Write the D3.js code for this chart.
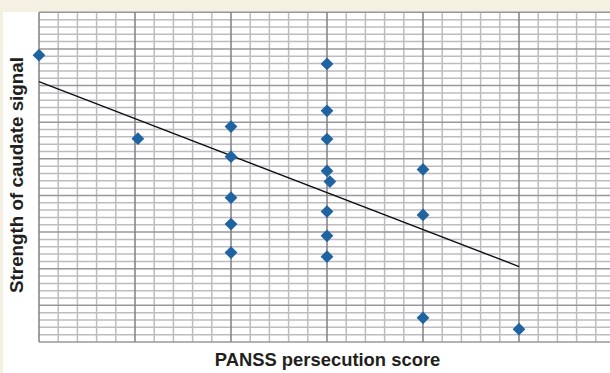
<!DOCTYPE html>
<html>
<head>
<meta charset="utf-8">
<script src="https://cdn.jsdelivr.net/npm/d3@7"></script>
<style>
  html, body { margin: 0; padding: 0; background: #f4f0e2; }
  svg { display: block; }
  .lbl { font-family: "Liberation Sans", Arial, Helvetica, sans-serif; font-weight: bold; fill: #231f20; }
</style>
</head>
<body>
<div id="chart"></div>
<script>
// PANSS persecution score (x) against caudate signal strength (y)
const scores  = [1, 2.03, 3, 3, 3, 3, 3, 4, 4, 4, 4, 4.03, 4, 4, 4, 5, 5, 5, 6];
const signals = [7.83, 5.55, 5.88, 5.06, 3.94, 3.22, 2.44, 7.59, 6.31, 5.54, 4.67, 4.38, 3.56, 2.90, 2.33, 4.71, 3.47, 0.66, 0.35];

// Fitted trend line, given by its two end points
const fitScores  = [1, 6];
const fitSignals = [7.11, 2.06];

const xDomain = [1, 7];
const yDomain = [0, 9];
const minorStep = 0.2;

const W = 610, H = 373;
const svg = d3.select("#chart").append("svg")
  .attr("width", W).attr("height", H);

// white panel
svg.append("rect").attr("x", 3).attr("y", 12).attr("width", W - 3).attr("height", H - 12)
  .attr("fill", "#ffffff");

const x = d3.scaleLinear().domain(xDomain).range([39, 615]);
const y = d3.scaleLinear().domain(yDomain).range([342, 12.3]);

const g = svg.append("g");

const xs = d3.range(xDomain[0], xDomain[1] + 1e-9, minorStep);
const ys = d3.range(yDomain[0], yDomain[1] + 1e-9, minorStep);
const isMajor = (v, i) => i % 5 === 0;

// minor grid
g.selectAll(".hmin").data(ys.filter((v, i) => !isMajor(v, i))).join("line")
  .attr("x1", x(xDomain[0])).attr("x2", x(xDomain[1]))
  .attr("y1", d => y(d)).attr("y2", d => y(d))
  .attr("stroke", "#bdbdc1").attr("stroke-width", 1.5);
g.selectAll(".vmin").data(xs.filter((v, i) => !isMajor(v, i))).join("line")
  .attr("y1", y(yDomain[0])).attr("y2", y(yDomain[1]))
  .attr("x1", d => x(d)).attr("x2", d => x(d))
  .attr("stroke", "#bdbdc1").attr("stroke-width", 1.5);

// major grid
g.selectAll(".hmaj").data(ys.filter(isMajor)).join("line")
  .attr("x1", x(xDomain[0])).attr("x2", x(xDomain[1]))
  .attr("y1", d => y(d)).attr("y2", d => y(d))
  .attr("stroke", "#98989c").attr("stroke-width", 1.5);
g.selectAll(".vmaj").data(xs.filter(isMajor)).join("line")
  .attr("y1", y(yDomain[0])).attr("y2", y(yDomain[1]))
  .attr("x1", d => x(d)).attr("x2", d => x(d))
  .attr("stroke", "#818186").attr("stroke-width", 1.5);

// trend line
g.append("line")
  .attr("x1", x(fitScores[0])).attr("y1", y(fitSignals[0]))
  .attr("x2", x(fitScores[1])).attr("y2", y(fitSignals[1]))
  .attr("stroke", "#111").attr("stroke-width", 1.4);

// diamond markers
const diamond = d3.symbol().type(d3.symbolDiamond2).size(104);
g.selectAll(".pt").data(scores.map((s, i) => [s, signals[i]])).join("path")
  .attr("d", diamond)
  .attr("transform", d => `translate(${x(d[0])},${y(d[1])})`)
  .attr("fill", "#1f64a1");

// axis titles
svg.append("text").attr("class", "lbl")
  .attr("x", 327.5).attr("y", 366).attr("text-anchor", "middle")
  .attr("font-size", 18.4).text("PANSS persecution score");
svg.append("text").attr("class", "lbl")
  .attr("transform", "translate(23,175) rotate(-90)").attr("text-anchor", "middle")
  .attr("font-size", 18.8).text("Strength of caudate signal");
</script>
</body>
</html>
